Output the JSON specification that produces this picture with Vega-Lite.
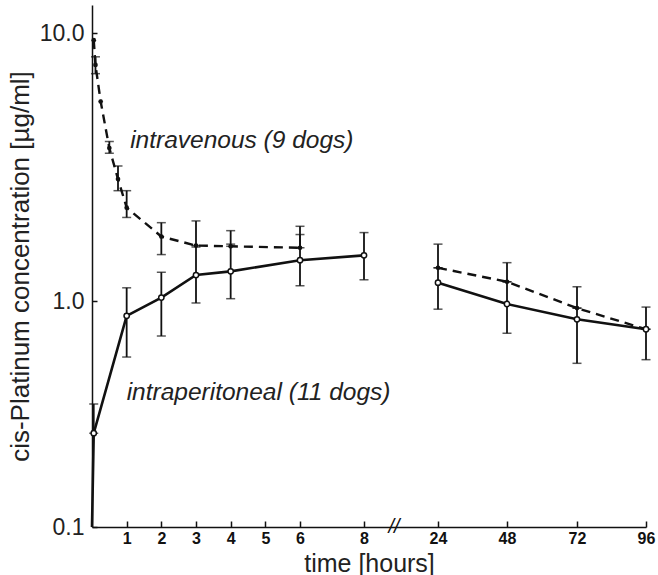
{
  "$schema": "https://vega.github.io/schema/vega-lite/v6.json",
  "autosize": "none",
  "width": 556,
  "height": 522,
  "padding": {"left": 92, "top": 5, "right": 10, "bottom": 48},
  "background": "white",
  "config": {
    "view": {"stroke": null},
    "font": "Liberation Sans"
  },
  "datasets": {
    "obs": [
      {"series": "intravenous", "seg": "iv-early", "t": 0.05, "conc": 9.4, "lo": null, "hi": null},
      {"series": "intravenous", "seg": "iv-early", "t": 0.1, "conc": 7.6, "lo": 7.05, "hi": 8.15},
      {"series": "intravenous", "seg": "iv-early", "t": 0.25, "conc": 5.55, "lo": null, "hi": null},
      {"series": "intravenous", "seg": "iv-early", "t": 0.5, "conc": 3.72, "lo": 3.56, "hi": 3.94},
      {"series": "intravenous", "seg": "iv-early", "t": 0.75, "conc": 2.85, "lo": 2.58, "hi": 3.19},
      {"series": "intravenous", "seg": "iv-early", "t": 1, "conc": 2.23, "lo": 2.05, "hi": 2.58},
      {"series": "intravenous", "seg": "iv-early", "t": 2, "conc": 1.74, "lo": 1.49, "hi": 1.96},
      {"series": "intravenous", "seg": "iv-early", "t": 3, "conc": 1.61, "lo": 1.61, "hi": 1.99},
      {"series": "intravenous", "seg": "iv-early", "t": 4, "conc": 1.6, "lo": 1.6, "hi": 1.83},
      {"series": "intravenous", "seg": "iv-early", "t": 6, "conc": 1.58, "lo": 1.58, "hi": 1.9},
      {"series": "intravenous", "seg": "iv-late", "t": 24, "conc": 1.33, "lo": 1.33, "hi": 1.63},
      {"series": "intravenous", "seg": "iv-late", "t": 48, "conc": 1.18, "lo": 1.18, "hi": 1.39},
      {"series": "intravenous", "seg": "iv-late", "t": 72, "conc": 0.93, "lo": 0.93, "hi": 1.13},
      {"series": "intravenous", "seg": "iv-late", "t": 96, "conc": 0.75, "lo": 0.75, "hi": 0.94},
      {"series": "intraperitoneal", "seg": "ip-early", "t": 0, "conc": 0.1, "lo": null, "hi": null},
      {"series": "intraperitoneal", "seg": "ip-early", "t": 0.05, "conc": 0.26, "lo": 0.26, "hi": 0.35},
      {"series": "intraperitoneal", "seg": "ip-early", "t": 1, "conc": 0.86, "lo": 0.565, "hi": 1.12},
      {"series": "intraperitoneal", "seg": "ip-early", "t": 2, "conc": 1.03, "lo": 0.7, "hi": 1.28},
      {"series": "intraperitoneal", "seg": "ip-early", "t": 3, "conc": 1.25, "lo": 0.98, "hi": 1.59},
      {"series": "intraperitoneal", "seg": "ip-early", "t": 4, "conc": 1.29, "lo": 1.02, "hi": 1.63},
      {"series": "intraperitoneal", "seg": "ip-early", "t": 6, "conc": 1.42, "lo": 1.14, "hi": 1.77},
      {"series": "intraperitoneal", "seg": "ip-early", "t": 8, "conc": 1.48, "lo": 1.2, "hi": 1.8},
      {"series": "intraperitoneal", "seg": "ip-late", "t": 24, "conc": 1.17, "lo": 0.92, "hi": 1.33},
      {"series": "intraperitoneal", "seg": "ip-late", "t": 48, "conc": 0.97, "lo": 0.72, "hi": 1.18},
      {"series": "intraperitoneal", "seg": "ip-late", "t": 72, "conc": 0.83, "lo": 0.53, "hi": 0.93},
      {"series": "intraperitoneal", "seg": "ip-late", "t": 96, "conc": 0.75, "lo": 0.55, "hi": 0.75}
    ],
    "notes": [
      {"t": 1.1, "conc": 3.95, "label": "intravenous (9 dogs)"},
      {"t": 1.0, "conc": 0.39, "label": "intraperitoneal (11 dogs)"}
    ],
    "brk": [
      {"t": 14.5, "conc": 0.1, "label": "//"}
    ]
  },
  "encoding": {
    "x": {
      "field": "t", "type": "quantitative",
      "scale": {"domain": [0, 6, 8, 24, 48, 72, 96], "range": [0, 208, 272, 346, 415, 485, 554], "nice": false, "zero": false},
      "axis": {
        "title": "time [hours]",
        "values": [1, 2, 3, 4, 5, 6, 8, 24, 48, 72, 96],
        "grid": false,
        "domainColor": "#111", "domainWidth": 1.5,
        "tickColor": "#111", "tickWidth": 1.5, "tickSize": -6,
        "labelFont": "Liberation Sans", "labelFontWeight": "bold", "labelFontSize": 16, "labelColor": "#111",
        "labelPadding": 9, "labelFlush": false,
        "titleFont": "Liberation Sans", "titleFontSize": 25, "titleFontWeight": "normal", "titleColor": "#222",
        "titlePadding": 5
      }
    },
    "y": {
      "field": "conc", "type": "quantitative",
      "scale": {"type": "log", "domain": [0.1, 1, 10, 12.7], "range": [522, 296, 28, 0], "nice": false, "zero": false},
      "axis": {
        "title": "cis-Platinum concentration [µg/ml]",
        "values": [0.1, 1, 10],
        "format": ".1f",
        "grid": false,
        "domainColor": "#111", "domainWidth": 1.5,
        "tickColor": "#111", "tickWidth": 1.5, "tickSize": -5,
        "labelFont": "Liberation Sans", "labelFontSize": 23, "labelColor": "#222",
        "labelPadding": 13,
        "titleFont": "Liberation Sans", "titleFontSize": 26, "titleFontWeight": "normal", "titleColor": "#222",
        "titlePadding": 6
      }
    }
  },
  "layer": [
    {
      "data": {"name": "obs"},
      "transform": [{"filter": "datum.hi != null"}],
      "mark": {"type": "errorbar", "ticks": {"size": 9, "color": "#111", "thickness": 1.5}, "color": "#111", "thickness": 1.8},
      "encoding": {
        "y": {"field": "lo", "type": "quantitative"},
        "y2": {"field": "hi"}
      }
    },
    {
      "data": {"name": "obs"},
      "transform": [{"filter": "datum.series == 'intravenous'"}],
      "mark": {"type": "line", "color": "#111", "strokeWidth": 2.4, "strokeDash": [9, 6]},
      "encoding": {"detail": {"field": "seg"}}
    },
    {
      "data": {"name": "obs"},
      "transform": [{"filter": "datum.series == 'intraperitoneal'"}],
      "mark": {"type": "line", "color": "#111", "strokeWidth": 2.6},
      "encoding": {"detail": {"field": "seg"}}
    },
    {
      "data": {"name": "obs"},
      "transform": [{"filter": "datum.series == 'intravenous'"}],
      "mark": {"type": "point", "filled": true, "color": "#111", "size": 22, "opacity": 1}
    },
    {
      "data": {"name": "obs"},
      "transform": [{"filter": "datum.series == 'intraperitoneal' && datum.t > 0"}],
      "mark": {"type": "point", "filled": true, "fill": "white", "stroke": "#111", "strokeWidth": 1.5, "size": 28, "opacity": 1}
    },
    {
      "data": {"name": "notes"},
      "mark": {"type": "text", "align": "left", "baseline": "middle", "fontStyle": "italic", "fontSize": 24.5, "font": "Liberation Sans", "color": "#222"},
      "encoding": {"text": {"field": "label"}}
    },
    {
      "data": {"name": "brk"},
      "mark": {"type": "text", "align": "center", "baseline": "middle", "fontSize": 20, "fontStyle": "italic", "font": "Liberation Sans", "color": "#111"},
      "encoding": {"text": {"field": "label"}}
    }
  ]
}
